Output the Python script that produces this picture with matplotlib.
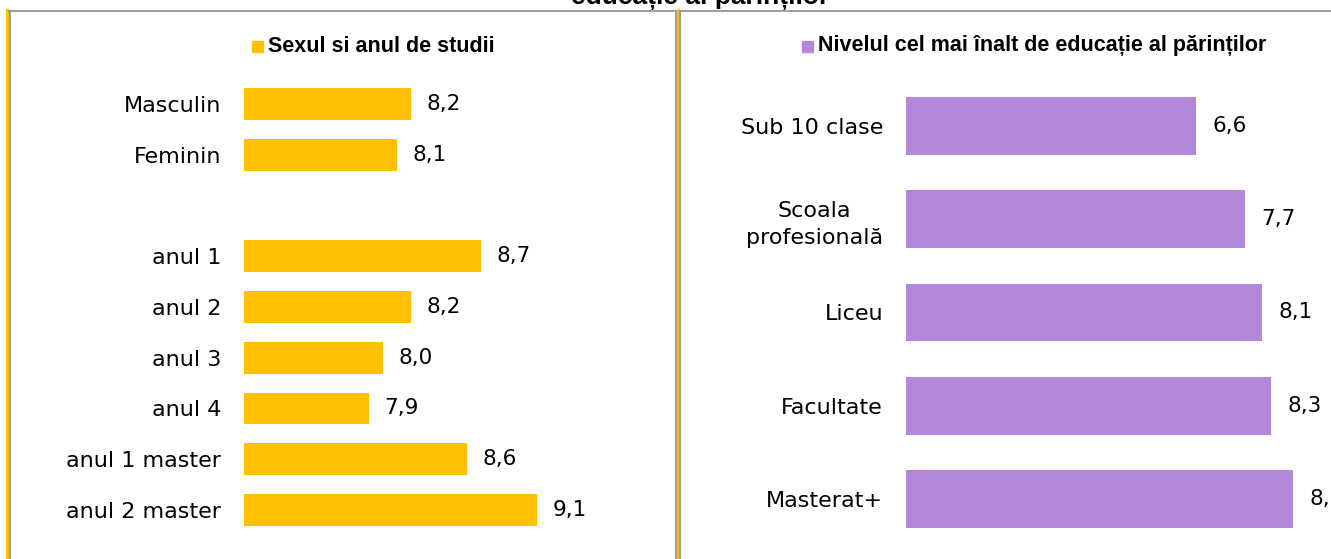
import matplotlib.pyplot as plt
from matplotlib.lines import Line2D
from matplotlib.patches import Rectangle

W, H = 1331, 559

sex_labels = ['Masculin', 'Feminin']
sex_values = [8.2, 8.1]
year_labels = ['anul 1', 'anul 2', 'anul 3', 'anul 4', 'anul 1 master', 'anul 2 master']
year_values = [8.7, 8.2, 8.0, 7.9, 8.6, 9.1]
edu_labels = ['Sub 10 clase', 'Scoala\nprofesională', 'Liceu', 'Facultate', 'Masterat+']
edu_values = [6.6, 7.7, 8.1, 8.3, 8.8]

yellow = '#FFC000'
purple = '#B388D9'
frame = '#8C8C8C'
label_font = 'DejaVu Sans'
bold_font = 'Liberation Sans'


def fx(x):
    return x / W


def fy(y):
    return 1 - y / H


def axes_px(x0, y0, x1, y1):
    return fig.add_axes([fx(x0), fy(y1), fx(x1 - x0), (y1 - y0) / H])


def fmt(v):
    return f'{v:.1f}'.replace('.', ',')


fig = plt.figure(figsize=(W / 100, H / 100), dpi=100)

# panel frames
def vline(x, y0, y1, color, lw):
    fig.add_artist(Line2D([fx(x), fx(x)], [fy(y0), fy(y1)], color=color, lw=lw))

def hline(y, x0, x1, color, lw):
    fig.add_artist(Line2D([fx(x0), fx(x1)], [fy(y), fy(y)], color=color, lw=lw))

vline(7, 10, H, yellow, 2.4)
vline(9.5, 10.5, H, frame, 1.2)
hline(10.5, 9, 675.5, frame, 1.2)
vline(675.5, 10.5, H, frame, 1.2)
vline(677.5, 10, H, yellow, 1.6)
vline(680, 10.5, H, frame, 1.2)
hline(10.5, 680, W, frame, 1.2)

# top title (cut off by the crop)
fig.text(fx(700), fy(4), 'educație al părinților', ha='center', va='baseline',
         fontsize=19, fontweight='bold', family=bold_font)

# left panel
ax1 = axes_px(244, 60, 650, 555)
pos_left = [0, 1] + [3 + i for i in range(len(year_labels))]
vals_left = sex_values + year_values
ax1.barh(pos_left, vals_left, height=0.63, color=yellow)
ax1.set_xlim(7.01, 7.01 + (650 - 244) / 140)
ax1.set_ylim((555 - 104) / 50.75, (60 - 104) / 50.75)
ax1.set_yticks(pos_left, sex_labels + year_labels, fontsize=16, family=label_font)
for p, v in zip(pos_left, vals_left):
    ax1.annotate(fmt(v), (v, p), xytext=(11.5, 0), textcoords='offset points',
                 va='center', ha='left', fontsize=15.5, family=label_font)

# right panel
ax2 = axes_px(906, 70, W, 555)
pos_right = list(range(len(edu_labels)))
ax2.barh(pos_right, edu_values, height=0.62, color=purple)
ax2.set_xlim(0, (W - 906) / 44)
ax2.set_ylim((555 - 126) / 93.25, (70 - 126) / 93.25)
ax2.set_yticks(pos_right, edu_labels, fontsize=16, family=label_font,
               multialignment='center', linespacing=1.4)
for p, v in zip(pos_right, edu_values):
    ax2.annotate(fmt(v), (v, p), xytext=(11.5, 0), textcoords='offset points',
                 va='center', ha='left', fontsize=15.5, family=label_font,
                 annotation_clip=False)

for ax in (ax1, ax2):
    ax.set_xticks([])
    ax.tick_params(axis='y', length=0, pad=16.5)
    for s in ax.spines.values():
        s.set_visible(False)
    ax.patch.set_alpha(0)

# legend-style panel titles
for x_sq, y_c, text, color in [(252, 46, 'Sexul si anul de studii', yellow),
                               (802, 46, 'Nivelul cel mai înalt de educație al părinților', purple)]:
    fig.add_artist(Rectangle((fx(x_sq), fy(y_c + 6)), fx(11), 11 / H, color=color,
                             transform=fig.transFigure))
    fig.text(fx(x_sq + 16), fy(y_c), text, ha='left', va='center',
             fontsize=15.5, fontweight='bold', family=bold_font)

fig.savefig('out.png', dpi=100)
